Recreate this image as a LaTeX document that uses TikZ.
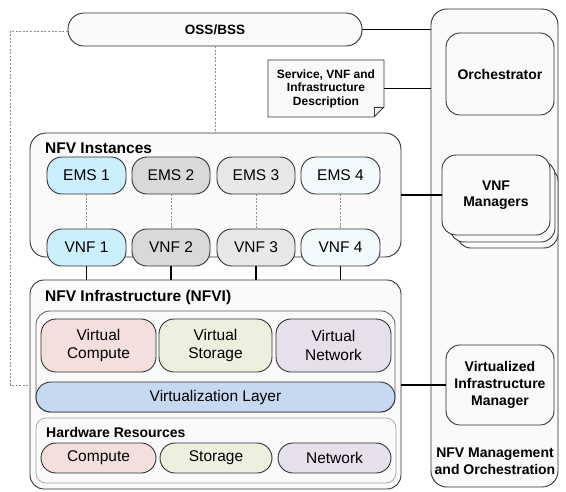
\documentclass[tikz,border=0pt]{standalone}
\usepackage{fontspec}
\setmainfont{Liberation Sans}
\usetikzlibrary{calc,backgrounds}

\definecolor{edge}{HTML}{333333}
\definecolor{panel}{HTML}{FAFAFA}
\definecolor{dotline}{HTML}{8C8C8C}
\definecolor{hwedge}{HTML}{A6A6A6}
\definecolor{cyanA}{HTML}{CCEFFD}
\definecolor{grayA}{HTML}{D9D9D9}
\definecolor{grayB}{HTML}{E8E8E8}
\definecolor{cyanB}{HTML}{F1F9FC}
\definecolor{vcomp}{HTML}{F2DFDE}
\definecolor{vstor}{HTML}{EBF0DF}
\definecolor{vnet}{HTML}{E5E0EC}
\definecolor{vlayer}{HTML}{C6D9F0}

% box given by its corners: name, x1, y1, x2, y2, style, text
\newcommand\panel[7]{%
  \node[#6, minimum width={#4-#2}, minimum height={#5-#3}]
    (#1) at ({(#2+#4)/2},{(#3+#5)/2}) {#7};}

\begin{document}
\begin{tikzpicture}[x=1pt, y=-1pt,
  box/.style={draw=edge, line width=0.9pt, fill=panel, rounded corners=14pt,
    inner sep=0pt, outer sep=0pt, align=center},
  pill/.style={box, rounded corners=15pt, font=\fontsize{15.5}{18.5}\selectfont},
  mano/.style={box, font=\bfseries\fontsize{14}{17}\selectfont},
  title/.style={anchor=base west, inner sep=0pt, font=\bfseries\fontsize{15.5}{18}\selectfont},
  link/.style={draw=black, line width=1.3pt},
  dotlink/.style={draw=dotline, line width=1pt, dash pattern=on 2pt off 1.6pt},
  sheet/.style={draw=edge, line width=0.9pt},
]
\useasboundingbox (0,0) rectangle (566,491);

% ---------------- management and orchestration column ----------------
\panel{mano}{431}{9}{558}{487}{box, rounded corners=16pt}{}
\node[font=\bfseries\fontsize{14}{17.5}\selectfont, align=center]
  (manolabel) at (495,461) {NFV Management\\and Orchestration};
\panel{orch}{446}{33}{554}{115}{mano}{Orchestrator}
\panel{vnfmc}{457}{167}{558}{248}{box}{}
\panel{vnfmb}{450}{161}{555}{242}{box}{}
\panel{vnfm}{442}{155}{550}{235}{mano}{VNF\\[-1pt]Managers}
\panel{vim}{446}{345}{554}{425}{mano}{Virtualized\\Infrastructure\\Manager}

% ---------------- OSS/BSS and descriptors ----------------
\panel{oss}{68}{13}{362}{46}{box, rounded corners=16pt, font=\bfseries\fontsize{13.5}{16}\selectfont}{OSS/BSS}
\panel{doc}{268}{60}{384}{117}{inner sep=0pt, outer sep=0pt, align=center,
  font=\bfseries\fontsize{12}{13.5}\selectfont}{Service, VNF and\\Infrastructure\\Description}
% document sheet with a folded lower right corner
\begin{scope}[on background layer]
\filldraw[sheet, fill=panel] (doc.north west) -- (doc.north east) -- ([yshift=10pt]doc.south east)
  -- ([xshift=-10pt]doc.south east) -- (doc.south west) -- cycle;
\draw[sheet] ([yshift=10pt]doc.south east) -- ([xshift=-10pt,yshift=10pt]doc.south east)
  -- ([xshift=-10pt]doc.south east);
\end{scope}

% ---------------- NFV instances ----------------
\panel{inst}{30}{133}{401}{257}{box, rounded corners=16pt}{}
\node[title] (insttitle) at (45,153) {NFV Instances};
\panel{ems1}{47}{157}{126}{194}{pill, fill=cyanA}{EMS 1}
\panel{ems2}{132}{157}{210}{194}{pill, fill=grayA}{EMS 2}
\panel{ems3}{217}{157}{295}{194}{pill, fill=grayB}{EMS 3}
\panel{ems4}{301}{157}{380}{194}{pill, fill=cyanB}{EMS 4}
\panel{vnf1}{47}{229}{126}{266}{pill, fill=cyanA}{VNF 1}
\panel{vnf2}{132}{229}{210}{266}{pill, fill=grayA}{VNF 2}
\panel{vnf3}{217}{229}{295}{266}{pill, fill=grayB}{VNF 3}
\panel{vnf4}{301}{229}{380}{266}{pill, fill=cyanB}{VNF 4}

% ---------------- NFV infrastructure ----------------
\panel{nfvi}{30}{280}{401}{489}{box, rounded corners=14pt}{}
\node[title] (nfvititle) at (45,301) {NFV Infrastructure (NFVI)};
\panel{virt}{36}{311}{395}{412}{box, draw=edge!80, line width=0.8pt, rounded corners=14pt}{}
\panel{vcomp}{41}{319}{156}{372}{pill, fill=vcomp}{Virtual\\Compute}
\panel{vstor}{159}{319}{272}{372}{pill, fill=vstor}{Virtual\\Storage}
\panel{vnet}{276}{319}{391}{372}{pill, fill=vnet}{Virtual\\Network}
\panel{vlayer}{36}{382}{395}{412}{pill, fill=vlayer}{Virtualization Layer}
\panel{hw}{36}{418}{396}{483}{box, draw=hwedge, line width=0.8pt, rounded corners=10pt}{}
\node[title, font=\bfseries\fontsize{14}{17}\selectfont] (hwtitle) at (46,437) {Hardware Resources};
\panel{comp}{41}{443}{156}{473}{pill, fill=vcomp}{Compute}
\panel{stor}{160}{443}{272}{473}{pill, fill=vstor}{Storage}
\panel{net}{278}{443}{391}{473}{pill, fill=vnet}{Network}

% ---------------- connectors ----------------
\draw[link] (oss.east) -- (oss.east -| mano.west);
\draw[link] (doc.east) -- (doc.east -| mano.west);
\draw[link] (vnfm.west -| inst.east) -- (vnfm.west);
\draw[link] (vim.west -| nfvi.east) -- (vim.west);
\foreach \i in {1,...,4} {
  \draw[link] (vnf\i.south) -- (vnf\i.south |- nfvi.north);
  \draw[dotlink] (ems\i.south) -- (vnf\i.north);
}
\draw[dotlink] (oss.south) -- (oss.south |- inst.north);
\coordinate (turnA) at (10,31);
\coordinate (turnB) at (10,385);
\draw[dotlink] (oss.west |- turnA) -- (turnA) -- (turnB) -- (turnB -| nfvi.west);
\end{tikzpicture}
\end{document}
